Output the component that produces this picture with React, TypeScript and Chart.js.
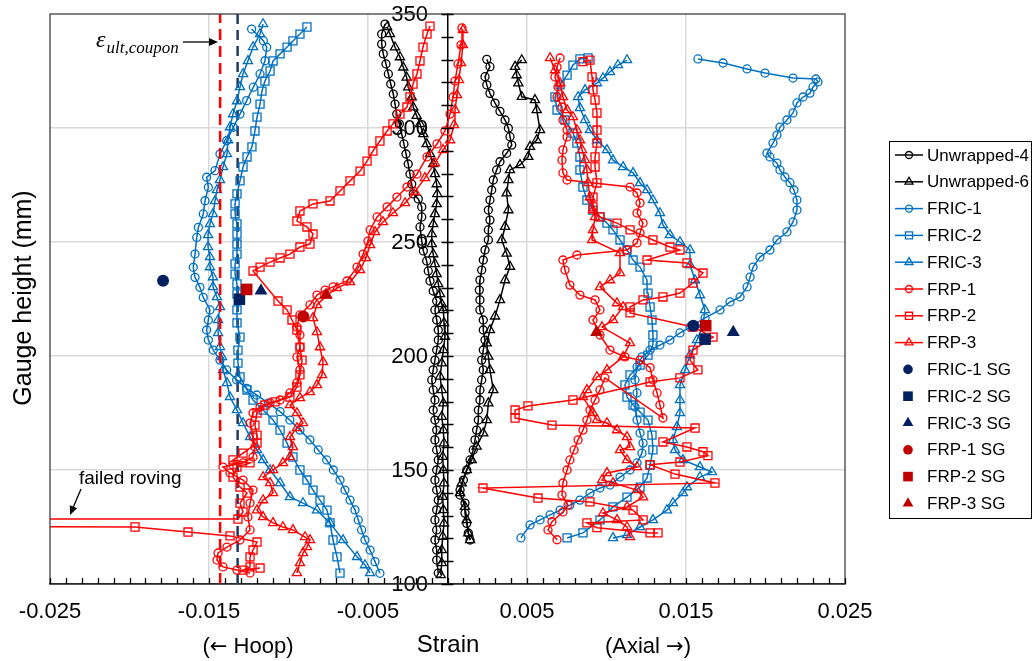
import React, { useEffect, useRef } from 'react';
import { Chart, registerables } from 'chart.js';

Chart.register(...registerables);

type Pt = [number, number];

// ---------- axes ----------
const X_MIN = -0.025;
const X_MAX = 0.025;
const Y_MIN = 100;
const Y_MAX = 350;
const Y_STEP = 50;
const X_TICKS = [-0.025, -0.015, -0.005, 0.005, 0.015, 0.025];
const GRID_X = [-0.015, -0.005, 0.005, 0.015];
const GRID_Y = [150, 200, 250, 300];

// ---------- reference lines (ultimate coupon strain) ----------
const EPS_FRP_LINE: Pt[] = [[-0.0143, 100], [-0.0143, 350]];
const EPS_FRIC_LINE: Pt[] = [[-0.0132, 100], [-0.0132, 350]];

// ---------- Unwrapped-4 ----------
const U4_HOOP: Pt[] = [[-0.00393,345.6],[-0.00414,341.2],[-0.00414,336.8],[-0.00404,332.5],[-0.00387,328.1],[-0.00372,323.7],[-0.00357,319.3],[-0.00341,314.9],[-0.0033,310.5],[-0.00319,306.1],[-0.00303,301.8],[-0.00288,297.4],[-0.00274,293],[-0.00261,288.6],[-0.00247,284.2],[-0.00236,279.8],[-0.00225,275.4],[-0.00215,271.1],[-0.00184,268.9],[-0.00162,265.4],[-0.00162,261],[-0.00173,256.6],[-0.00162,250.4],[-0.00152,246.1],[-0.00131,241.7],[-0.00121,237.3],[-0.0011,232.9],[-0.0009,228.5],[-0.00068,224.1],[-0.00079,220.2],[-0.00068,215.8],[-0.00058,211.4],[-0.00058,207],[-0.00068,202.6],[-0.00079,198.2],[-0.0009,193.9],[-0.00099,189.5],[-0.0009,185.1],[-0.00079,180.7],[-0.0009,176.3],[-0.00079,171.9],[-0.00068,167.5],[-0.00079,163.2],[-0.00068,158.8],[-0.00058,154.4],[-0.00068,150],[-0.00079,145.6],[-0.00068,141.2],[-0.00058,136.8],[-0.00068,132.5],[-0.00079,128.1],[-0.00068,123.7],[-0.00079,119.3],[-0.00068,114.9],[-0.00068,110.5],[-0.00058,104.8]];
const U4_AXIAL: Pt[] = [[0.00247,330.1],[0.00267,326.9],[0.00236,322.5],[0.00247,318.9],[0.00267,315.2],[0.00299,310.9],[0.0033,307.3],[0.00362,303.5],[0.00383,299.9],[0.00393,296.2],[0.00404,292.5],[0.00372,288.9],[0.0033,285.2],[0.00309,281.6],[0.00288,277.2],[0.00278,272.8],[0.00267,268.4],[0.00257,264],[0.00267,259.6],[0.00257,255.3],[0.00257,250.9],[0.00236,246.5],[0.00225,242.1],[0.00215,237.7],[0.00204,233.3],[0.002,228.9],[0.00204,224.6],[0.00204,220.2],[0.00225,215.8],[0.00225,211.4],[0.00236,207],[0.00225,202.6],[0.00215,198.2],[0.00225,193.9],[0.00215,189.5],[0.00204,185.1],[0.00204,180.7],[0.00194,176.3],[0.00194,171.9],[0.00183,167.5],[0.00173,163.2],[0.00162,158.8],[0.00142,154.4],[0.00121,150],[0.001,145.6],[0.00079,141.2],[0.00079,139],[0.0011,135.5],[0.0011,131.1],[0.00121,126.6],[0.00131,122.3],[0.00142,119.3]];

// ---------- Unwrapped-6 ----------
const U6_HOOP: Pt[] = [[-0.0038,344.3],[-0.00362,341.2],[-0.0033,335.4],[-0.00299,331.1],[-0.00278,326.6],[-0.00257,322.2],[-0.00247,317.9],[-0.00225,313.5],[-0.00215,309.1],[-0.00194,305.4],[-0.00173,301.8],[-0.00152,297.4],[-0.00131,293],[-0.0011,288.6],[-0.0009,284.2],[-0.00079,279.8],[-0.00068,275.4],[-0.00064,271.1],[-0.00068,266.7],[-0.00079,262.3],[-0.0009,257.9],[-0.00099,253.5],[-0.00099,249.1],[-0.0009,244.7],[-0.00079,240.4],[-0.00068,236],[-0.00058,231.6],[-0.00047,227.2],[-0.00036,222.8],[-0.00026,220.2],[-0.00022,214.5],[-0.00016,208.5],[-0.00026,202.6],[-0.00036,196.8],[-0.00047,191],[-0.00036,185.1],[-0.00026,179.3],[-0.00036,173.4],[-0.00026,167.5],[-0.00022,161.7],[-0.0003,155.8],[-0.00026,150],[-0.00022,144.2],[-0.0003,138.3],[-0.00026,132.5],[-0.00022,126.6],[-0.0003,120.8],[-0.00036,114.9],[-0.00036,109.2],[-0.00043,104]];
const U6_AXIAL: Pt[] = [[0.00467,329.8],[0.00425,326.9],[0.00435,323.2],[0.00446,319.6],[0.00467,313.7],[0.0055,312.3],[0.00561,307.9],[0.00582,299.1],[0.00561,294.7],[0.00519,291.8],[0.00508,287.4],[0.00456,283.8],[0.00393,281.6],[0.00383,277.2],[0.00372,271.4],[0.00383,264],[0.00362,256.7],[0.00341,250.9],[0.00372,245],[0.00393,239.2],[0.00362,233.3],[0.0033,224.6],[0.00299,217.4],[0.00267,211.4],[0.00247,205.6],[0.00257,199.8],[0.00267,193.9],[0.00288,185.1],[0.00257,179.3],[0.00247,171.9],[0.00225,166.1],[0.00183,160.3],[0.00152,154.4],[0.00121,150],[0.00089,144.2],[0.00079,139.9],[0.0011,133.9],[0.00121,128.1],[0.00131,122.3],[0.00142,119.3]];

// ---------- FRIC ----------
const FRIC1_HOOP: Pt[] = [[-0.01232,343.4],[-0.01158,338.3],[-0.01137,335.4],[-0.01148,329.5],[-0.01179,323.7],[-0.01221,317.9],[-0.01263,312],[-0.01305,306.1],[-0.01347,300.3],[-0.01389,294.4],[-0.01431,288.6],[-0.01462,281.3],[-0.01515,278.4],[-0.01504,274],[-0.01525,268.1],[-0.01536,262.3],[-0.01567,256.4],[-0.01577,252],[-0.01588,244.7],[-0.01599,238.9],[-0.01588,234.5],[-0.01557,230.1],[-0.01536,225.7],[-0.01494,220.2],[-0.01504,215.8],[-0.01515,211.4],[-0.01504,207],[-0.01473,202.6],[-0.01431,198.2],[-0.01389,193.9],[-0.01326,189.5],[-0.01263,185.8],[-0.012,182.9],[-0.01127,179.3],[-0.01053,175.6],[-0.00991,171.9],[-0.00928,167.5],[-0.00865,163.2],[-0.00813,158.8],[-0.0076,154.4],[-0.00718,150],[-0.00676,145.6],[-0.00645,141.2],[-0.00613,136.8],[-0.00582,132.5],[-0.00561,128.1],[-0.0054,123.7],[-0.00519,119.3],[-0.00487,114.9],[-0.00456,109.8],[-0.00425,104.7]];
const FRIC1_AXIAL: Pt[] = [[0.00462,120.2],[0.00519,125.9],[0.00582,128.1],[0.00645,130.3],[0.00708,132.4],[0.0077,134.6],[0.00833,136.8],[0.00896,139.9],[0.00959,142.1],[0.01022,143.4],[0.01085,146.9],[0.01148,150],[0.01192,153.1],[0.01223,157.4],[0.0123,161.8],[0.01211,166.2],[0.01192,171.9],[0.01179,177.6],[0.01192,183.8],[0.01179,189.5],[0.01192,195.2],[0.01223,199.6],[0.01274,202.6],[0.01336,204.8],[0.01399,207],[0.01462,210.1],[0.01525,212.7],[0.0162,216.7],[0.01714,220.2],[0.01777,223.7],[0.0184,225.9],[0.01884,230.3],[0.01903,234.6],[0.01922,239],[0.01965,243.4],[0.02028,246.5],[0.02072,250.9],[0.02135,254.4],[0.02173,258.8],[0.02198,264],[0.02198,268.4],[0.02179,272.8],[0.02154,276],[0.02122,278.5],[0.02091,281.6],[0.02072,284.6],[0.02028,287.3],[0.02009,289],[0.02047,293.4],[0.02072,296.9],[0.02091,300.4],[0.02135,303.5],[0.02173,306.6],[0.02198,311],[0.02236,313.6],[0.0228,315.3],[0.02299,318],[0.0233,320.2],[0.02317,321.5],[0.02173,321.9],[0.01997,324.1],[0.01884,325.9],[0.01733,328.5],[0.01575,330.3]];
const FRIC2_HOOP: Pt[] = [[-0.00884,344.3],[-0.00928,341.2],[-0.00972,338.2],[-0.01009,335.5],[-0.01053,332.5],[-0.01097,329.4],[-0.01116,325],[-0.01148,320.6],[-0.01167,316.2],[-0.01179,310.5],[-0.01198,304.8],[-0.01211,298.7],[-0.0123,291.7],[-0.01261,287.3],[-0.01286,282.9],[-0.01305,276.8],[-0.01324,271.1],[-0.01336,266.7],[-0.01336,262.3],[-0.01324,257.9],[-0.01324,253.5],[-0.01324,249.1],[-0.01324,244.7],[-0.01336,240.4],[-0.01336,235.9],[-0.01324,231.6],[-0.01324,227.2],[-0.01324,220.2],[-0.01324,214.5],[-0.01305,208.3],[-0.01318,202.6],[-0.01318,196.9],[-0.01305,190.8],[-0.01261,185.1],[-0.01223,180.7],[-0.0116,176.3],[-0.01097,171.9],[-0.01053,167.5],[-0.01009,161.8],[-0.00972,155.7],[-0.00928,150],[-0.00884,145.6],[-0.00846,141.2],[-0.00802,136.8],[-0.00758,132.4],[-0.00739,126.8],[-0.0072,119.3],[-0.00695,111.9],[-0.00676,104.8]];
const FRIC2_AXIAL: Pt[] = [[0.00752,120.2],[0.00852,122.4],[0.00959,128.1],[0.01041,133.8],[0.01129,138.1],[0.01211,142.5],[0.01255,146.5],[0.01274,152.2],[0.01292,158.8],[0.01286,165.3],[0.01261,171.9],[0.01211,175.4],[0.01167,178.5],[0.01129,182],[0.01116,187.3],[0.01148,191.7],[0.01211,196],[0.01261,200.4],[0.01292,204.8],[0.01292,209.2],[0.01286,215.8],[0.01274,221.5],[0.01261,227.6],[0.01255,233.3],[0.01211,239],[0.01167,242.1],[0.01129,246.5],[0.01085,250.9],[0.01041,255.3],[0.01003,258.3],[0.00959,261],[0.00915,264],[0.00877,268.4],[0.00852,274.1],[0.00833,281.6],[0.00833,287.3],[0.00814,293.4],[0.00789,297.8],[0.00739,303.5],[0.00689,307.9],[0.00676,313.6],[0.00708,318.9],[0.00752,323.2],[0.00789,327.6],[0.00833,330.3],[0.00884,330.7]];
const FRIC3_HOOP: Pt[] = [[-0.0116,345.6],[-0.01179,341.2],[-0.01223,335.5],[-0.01255,329.4],[-0.01286,323.7],[-0.01305,318],[-0.01324,311.8],[-0.01349,306.1],[-0.01368,300.4],[-0.0138,294.7],[-0.01387,288.6],[-0.01412,282.9],[-0.01431,277.2],[-0.0145,272.8],[-0.01462,268],[-0.01475,262.3],[-0.01494,257.9],[-0.01506,253.1],[-0.01506,247.8],[-0.01494,243.4],[-0.01494,239],[-0.01475,234.6],[-0.01475,230.3],[-0.0145,225.9],[-0.01431,221.5],[-0.01443,215.8],[-0.01443,210.1],[-0.01431,204],[-0.01418,199.6],[-0.01412,193.9],[-0.01387,188.2],[-0.01368,182],[-0.01324,176.3],[-0.01286,170.6],[-0.01242,164.5],[-0.01198,158.8],[-0.0116,154.4],[-0.01116,150],[-0.01053,144.3],[-0.00991,138.2],[-0.00909,135.5],[-0.00821,132.4],[-0.00739,126.8],[-0.00657,119.3],[-0.00569,111.9],[-0.00519,108.3],[-0.00487,104.8]];
const FRIC3_AXIAL: Pt[] = [[0.01041,120.2],[0.01129,121.5],[0.01211,125],[0.01292,128.1],[0.0138,132.4],[0.01418,135.5],[0.01481,139.9],[0.01506,142.5],[0.01588,146.9],[0.01663,149.1],[0.01588,151.3],[0.01481,154.4],[0.01431,158.8],[0.01418,163.2],[0.01443,168.9],[0.01462,175],[0.01462,180.7],[0.01462,187.3],[0.01494,193.9],[0.01525,200.4],[0.01569,207],[0.01607,213.6],[0.01619,220.2],[0.01588,226.7],[0.01557,233.3],[0.01525,239.9],[0.01525,246.5],[0.01462,250],[0.01399,253.1],[0.01355,257.5],[0.01336,262.7],[0.01292,268.4],[0.01255,272.8],[0.01211,275.9],[0.01167,280.3],[0.01104,282.9],[0.01041,285.9],[0.01003,290.4],[0.0094,294.7],[0.00896,299.1],[0.00865,303.5],[0.00833,308.8],[0.00821,313.6],[0.00865,316.7],[0.0094,319.7],[0.00978,321.9],[0.01022,324.6],[0.01072,327.6],[0.01129,329.8]];

// ---------- FRP ----------
const FRP1_HOOP: Pt[] = [[-0.01242,104.8],[-0.01324,106.1],[-0.01412,107.5],[-0.0145,110.5],[-0.01443,113.6],[-0.01387,116.2],[-0.01305,119.3],[-0.01242,123.7],[-0.01255,129.4],[-0.01242,135.5],[-0.01223,141.2],[-0.01286,145.6],[-0.01368,148.7],[-0.01412,151.3],[-0.01349,152.2],[-0.01286,153.1],[-0.01223,155.7],[-0.01211,160.1],[-0.01223,164.5],[-0.01242,170.6],[-0.01223,175],[-0.01179,177.6],[-0.01116,179.4],[-0.01053,180.7],[-0.00991,183.8],[-0.00947,188.2],[-0.00928,193.9],[-0.00947,199.6],[-0.00928,203.9],[-0.00928,209.2],[-0.00947,212.7],[-0.00928,218],[-0.00865,222.4],[-0.00821,226.7],[-0.0077,228.9],[-0.0072,230.3],[-0.00632,232.9],[-0.00569,239],[-0.00531,244.7],[-0.005,250.4],[-0.00487,255.3],[-0.00443,261],[-0.0038,265.4],[-0.00318,269.7],[-0.00255,274.1],[-0.00192,279.8],[-0.00129,287.3],[-0.00066,293],[-0.00016,298.7],[0.00016,306.1],[0.00035,313.6],[0.00047,320.6],[0.00066,328.1],[0.00085,336.4],[0.00091,343.9]];
const FRP1_AXIAL: Pt[] = [[0.00708,330.7],[0.00689,326.7],[0.00676,322.4],[0.00695,318],[0.00689,313.6],[0.0072,309.2],[0.00726,303.5],[0.00752,299.1],[0.00752,296.1],[0.00726,290.4],[0.0072,285.9],[0.00726,280.3],[0.00752,277.2],[0.01148,274.1],[0.01192,271.5],[0.01211,267.1],[0.01192,262.7],[0.0123,258.3],[0.01211,254],[0.01192,249.6],[0.01129,246.5],[0.00814,244.3],[0.00726,242.1],[0.00739,237.7],[0.0077,231.1],[0.00833,226.7],[0.00928,224.6],[0.00959,220.2],[0.00915,215.8],[0.00959,209.2],[0.01022,202.6],[0.01116,199.6],[0.01211,198.2],[0.01274,194.9],[0.01292,189.5],[0.01318,183.8],[0.01336,178.5],[0.01355,172.8],[0.0099,190.4],[0.00959,185.1],[0.00928,180.7],[0.00896,176.3],[0.00877,171.9],[0.00852,167.5],[0.00821,163.2],[0.00796,158.8],[0.0077,154.4],[0.00752,150],[0.00726,144.3],[0.0072,139],[0.00758,134.6],[0.00726,131.6],[0.00657,127.3],[0.00632,123.7],[0.00689,119.4]];
const FRP2_HOOP: Pt[] = [[-0.0011,344.7],[-0.00129,341.2],[-0.00154,335.5],[-0.00173,329.4],[-0.00192,323.7],[-0.00217,319.3],[-0.00236,313.6],[-0.00255,309.2],[-0.00299,306.1],[-0.00343,301.8],[-0.0038,298.7],[-0.00425,294.3],[-0.00469,289.9],[-0.00506,285.5],[-0.0055,281.1],[-0.00613,276.8],[-0.00676,272.4],[-0.00739,268],[-0.00846,266.7],[-0.00928,263.6],[-0.00947,259.2],[-0.00884,256.6],[-0.00846,253.5],[-0.00865,249.1],[-0.00928,247.8],[-0.00991,244.7],[-0.01053,243],[-0.01116,241.2],[-0.01179,239],[-0.01223,237.3],[-0.01066,224.1],[-0.01009,220.2],[-0.00978,215.8],[-0.00947,211.4],[-0.00928,203.9],[-0.00915,198.2],[-0.00928,191.7],[-0.00947,186.4],[-0.00991,182],[-0.01085,179.9],[-0.01148,178.5],[-0.01198,175],[-0.01211,169.7],[-0.01198,165.3],[-0.01198,161.8],[-0.01286,157.4],[-0.01349,154.4],[-0.01242,153.1],[-0.01324,151.3],[-0.01349,146.9],[-0.01305,142.5],[-0.01261,139.9],[-0.01305,135.5],[-0.01286,131.6],[-0.01318,128.5],[-0.045,128.5],[-0.035,125.2],[-0.01965,125],[-0.01632,122.8],[-0.01368,121.1],[-0.01198,118.4],[-0.01223,114.9],[-0.01242,111.9],[-0.01242,107.5],[-0.01286,106.1],[-0.01179,107]];
const FRP2_AXIAL: Pt[] = [[0.00852,329.1],[0.00896,329.8],[0.00909,322.4],[0.00915,316.7],[0.00928,312.3],[0.0094,306.6],[0.0094,299.1],[0.0094,293.4],[0.00928,287.3],[0.00928,282.9],[0.0094,275.9],[0.00915,269.7],[0.00915,265.4],[0.00959,261],[0.01066,258.3],[0.01148,255.3],[0.01292,250.9],[0.01399,247.8],[0.01462,246.5],[0.01255,242.1],[0.01506,240.8],[0.01607,236.4],[0.01544,232],[0.01462,227.6],[0.01355,225.9],[0.0123,224.6],[0.01148,221.5],[0.01148,218.9],[0.01544,212.7],[0.0167,208.3],[0.01544,202.6],[0.01525,198.2],[0.01575,193.9],[0.01462,190.4],[0.01274,188.6],[0.00789,180.7],[0.00506,178.1],[0.00425,176.3],[0.00425,172.8],[0.00657,169.7],[0.01557,168.4],[0.01355,162.3],[0.01506,160.1],[0.01607,158],[0.01638,156.3],[0.01462,153.5],[0.01274,152.3],[0.01431,148.2],[0.01682,144.3],[0.00223,142.1],[0.00569,137.7],[0.00896,136],[0.01167,132.4],[0.0123,128.1],[0.00877,126.8],[0.0094,124.7],[0.01274,122.4],[0.01324,122.4]];
const FRP3_HOOP: Pt[] = [[-0.00947,104.8],[-0.00928,109.2],[-0.00909,113.6],[-0.00884,116.2],[-0.00865,119.3],[-0.00896,120.6],[-0.00972,123.7],[-0.01035,125],[-0.01097,126.8],[-0.0116,129.4],[-0.01198,132.4],[-0.0116,136.8],[-0.01097,139.9],[-0.01116,144.3],[-0.0116,146.9],[-0.01097,150],[-0.01035,153.1],[-0.00991,155.7],[-0.00972,160.1],[-0.00991,164.5],[-0.00947,168.4],[-0.00909,170.6],[-0.00947,175],[-0.00991,178.5],[-0.00928,181.6],[-0.00865,184.2],[-0.00821,187.3],[-0.00789,191.7],[-0.00783,197.4],[-0.00802,203.9],[-0.00821,210.5],[-0.00846,216.7],[-0.00821,222.4],[-0.00758,226.7],[-0.00695,229.8],[-0.00613,232.5],[-0.0055,237.7],[-0.00513,243],[-0.00487,248.7],[-0.00456,254.4],[-0.00406,258.8],[-0.00343,262.7],[-0.00267,267.1],[-0.00204,272],[-0.00142,278.1],[-0.00079,284.6],[-0.00028,290.4],[0.00016,294.7],[0.00041,301.3],[0.00047,307.9],[0.0006,314.5],[0.00072,321.1],[0.00085,328.5],[0.00097,336.4],[0.00097,343]];
const FRP3_AXIAL: Pt[] = [[0.00645,330.7],[0.00676,325.4],[0.00708,319.7],[0.00726,313.6],[0.00752,307.9],[0.00789,304.8],[0.00814,299.1],[0.00833,294.7],[0.00846,290.4],[0.00865,286],[0.00877,281.6],[0.00884,275.9],[0.00896,269.7],[0.00915,264],[0.00928,261],[0.00915,255.3],[0.00909,250.9],[0.01085,245.2],[0.01085,236.4],[0.01022,233.3],[0.00959,230.3],[0.01066,223.2],[0.01104,221.5],[0.01041,215.8],[0.00972,212.7],[0.01148,205.7],[0.01104,199.6],[0.01003,193.9],[0.0094,190.8],[0.00877,185.1],[0.00852,182],[0.00915,175],[0.0094,172],[0.01003,170.6],[0.01066,167.5],[0.01129,164.5],[0.01148,160.1],[0.01085,158.8],[0.01129,154.4],[0.01192,151.3],[0.01003,148.7],[0.00972,145.6],[0.01041,144.3],[0.01192,141.2],[0.0123,138.1],[0.01129,133.8],[0.00978,131.1],[0.01066,128.1],[0.01129,125],[0.01148,120.6]];

// ---------- strain gauges ----------
const FRIC1_SG: Pt[] = [[-0.01789, 233], [0.01546, 213.3]];
const FRIC2_SG: Pt[] = [[-0.01309, 224.9], [0.0162, 207.4]];
const FRIC3_SG: Pt[] = [[-0.01173, 228.6], [0.01797, 210.4]];
const FRP1_SG: Pt[] = [[-0.00907, 217.3]];
const FRP2_SG: Pt[] = [[-0.01263, 229.2], [0.01624, 213.3]];
const FRP3_SG: Pt[] = [[-0.00764, 226.8], [0.00938, 210.4]];

// ---------- styles ----------
const FONT = "'Liberation Sans', Arial, sans-serif";
const ARROW_FONT = "'DejaVu Sans', 'Liberation Sans', sans-serif";
const SERIF = "'Liberation Serif', 'Times New Roman', serif";
const BLACK = '#000000';
const BLUE = '#0070C0';
const RED = '#FF0000';
const NAVY = '#002060';
const DARKRED = '#C00000';
const DASH_NAVY = '#203864';

type Marker = 'circle' | 'rect' | 'triangle';
const MARKER_R: Record<Marker, number> = { circle: 4, rect: 5.7, triangle: 5.3 };
const SG_R: Record<Marker, number> = { circle: 6, rect: 8.2, triangle: 7.5 };

const SERIES: { label: string; color: string; marker: Marker; branches: Pt[][] }[] = [
  { label: 'Unwrapped-4', color: BLACK, marker: 'circle', branches: [U4_HOOP, U4_AXIAL] },
  { label: 'Unwrapped-6', color: BLACK, marker: 'triangle', branches: [U6_HOOP, U6_AXIAL] },
  { label: 'FRIC-1', color: BLUE, marker: 'circle', branches: [FRIC1_HOOP, FRIC1_AXIAL] },
  { label: 'FRIC-2', color: BLUE, marker: 'rect', branches: [FRIC2_HOOP, FRIC2_AXIAL] },
  { label: 'FRIC-3', color: BLUE, marker: 'triangle', branches: [FRIC3_HOOP, FRIC3_AXIAL] },
  { label: 'FRP-1', color: RED, marker: 'circle', branches: [FRP1_HOOP, FRP1_AXIAL] },
  { label: 'FRP-2', color: RED, marker: 'rect', branches: [FRP2_HOOP, FRP2_AXIAL] },
  { label: 'FRP-3', color: RED, marker: 'triangle', branches: [FRP3_HOOP, FRP3_AXIAL] },
];

const SG_SERIES: { label: string; color: string; marker: Marker; pts: Pt[] }[] = [
  { label: 'FRIC-1 SG', color: NAVY, marker: 'circle', pts: FRIC1_SG },
  { label: 'FRIC-2 SG', color: NAVY, marker: 'rect', pts: FRIC2_SG },
  { label: 'FRIC-3 SG', color: NAVY, marker: 'triangle', pts: FRIC3_SG },
  { label: 'FRP-1 SG', color: DARKRED, marker: 'circle', pts: FRP1_SG },
  { label: 'FRP-2 SG', color: DARKRED, marker: 'rect', pts: FRP2_SG },
  { label: 'FRP-3 SG', color: DARKRED, marker: 'triangle', pts: FRP3_SG },
];

const toXY = (a: Pt[]) => a.map(([x, y]) => ({ x, y }));

function drawMarker(ctx: CanvasRenderingContext2D, m: Marker, x: number, y: number, r: number, color: string, filled: boolean) {
  ctx.beginPath();
  if (m === 'circle') {
    ctx.arc(x, y, r, 0, Math.PI * 2);
  } else if (m === 'rect') {
    const s = r * Math.SQRT1_2;
    ctx.rect(x - s, y - s, 2 * s, 2 * s);
  } else {
    for (let k = 0; k < 3; k++) {
      const a = (k * 2 * Math.PI) / 3;
      const px = x + Math.sin(a) * r;
      const py = y - Math.cos(a) * r;
      if (k === 0) ctx.moveTo(px, py);
      else ctx.lineTo(px, py);
    }
    ctx.closePath();
  }
  if (filled) {
    ctx.fillStyle = color;
    ctx.fill();
  } else {
    ctx.strokeStyle = color;
    ctx.lineWidth = 1.3;
    ctx.stroke();
  }
}

function drawArrow(ctx: CanvasRenderingContext2D, x1: number, y1: number, x2: number, y2: number) {
  const ang = Math.atan2(y2 - y1, x2 - x1);
  const hl = 9;
  const hw = 4;
  ctx.strokeStyle = '#000';
  ctx.fillStyle = '#000';
  ctx.lineWidth = 1.3;
  ctx.beginPath();
  ctx.moveTo(x1, y1);
  ctx.lineTo(x2 - Math.cos(ang) * hl * 0.8, y2 - Math.sin(ang) * hl * 0.8);
  ctx.stroke();
  ctx.beginPath();
  ctx.moveTo(x2, y2);
  ctx.lineTo(x2 - Math.cos(ang) * hl - Math.sin(ang) * hw, y2 - Math.sin(ang) * hl + Math.cos(ang) * hw);
  ctx.lineTo(x2 - Math.cos(ang) * hl + Math.sin(ang) * hw, y2 - Math.sin(ang) * hl - Math.cos(ang) * hw);
  ctx.closePath();
  ctx.fill();
}

// draw a centred run of text pieces, each with its own font
function drawRuns(ctx: CanvasRenderingContext2D, runs: [string, string][], cx: number, cy: number) {
  let total = 0;
  runs.forEach(([t, f]) => { ctx.font = f; total += ctx.measureText(t).width; });
  let x = cx - total / 2;
  ctx.textAlign = 'left';
  ctx.textBaseline = 'alphabetic';
  runs.forEach(([t, f]) => { ctx.font = f; ctx.fillText(t, x, cy); x += ctx.measureText(t).width; });
}

const decorPlugin = {
  id: 'decor',
  beforeDatasetsDraw(chart: any) {
    const { ctx, scales } = chart;
    const xs = scales.x;
    const ys = scales.y;
    const x0 = xs.getPixelForValue(0);
    ctx.save();
    ctx.fillStyle = '#000';
    ctx.font = `22px ${FONT}`;
    ctx.textAlign = 'right';
    ctx.textBaseline = 'middle';
    ys.ticks.forEach((t: any) => {
      ctx.fillText(String(t.value), x0 - 19.5, ys.getPixelForValue(t.value) + 1);
    });
    ctx.restore();
  },
  afterDatasetsDraw(chart: any) {
    const { ctx, chartArea: a, scales } = chart;
    const xs = scales.x;
    const ys = scales.y;
    ctx.save();
    ctx.strokeStyle = '#404040';
    ctx.lineWidth = 1.3;
    ctx.strokeRect(a.left, a.top, a.right - a.left, a.bottom - a.top);
    ctx.strokeStyle = '#000';
    ctx.lineWidth = 1.3;
    ctx.beginPath();
    for (let i = -25; i <= 25; i++) {
      const px = Math.round(xs.getPixelForValue(i / 1000)) + 0.5;
      ctx.moveTo(px, a.bottom);
      ctx.lineTo(px, a.bottom - 6);
    }
    const x0 = xs.getPixelForValue(0);
    for (let h = Y_MIN; h <= Y_MAX; h += 10) {
      const py = Math.round(ys.getPixelForValue(h)) + 0.5;
      ctx.moveTo(x0 - 6, py);
      ctx.lineTo(x0 + 6, py);
    }
    ctx.stroke();
    ctx.restore();
  },
  afterDraw(chart: any) {
    const { ctx } = chart;
    ctx.save();
    ctx.fillStyle = '#000';
    ctx.textAlign = 'left';
    ctx.textBaseline = 'alphabetic';
    // epsilon label
    ctx.font = `italic 24px ${SERIF}`;
    ctx.fillText('ε', 96, 47);
    const ew = ctx.measureText('ε').width;
    ctx.font = `italic 17px ${SERIF}`;
    ctx.fillText('ult,coupon', 96 + ew + 1, 53);
    drawArrow(ctx, 183, 42, 218, 42);
    // failed roving
    ctx.fillStyle = '#000';
    ctx.font = `19px ${FONT}`;
    ctx.fillText('failed roving', 79, 484);
    drawArrow(ctx, 81, 489, 70, 515);
    // y title
    ctx.save();
    ctx.translate(24, 298);
    ctx.rotate(-Math.PI / 2);
    ctx.textAlign = 'center';
    ctx.textBaseline = 'middle';
    ctx.fillStyle = '#000';
    ctx.font = `25px ${FONT}`;
    ctx.fillText('Gauge height (mm)', 0, 0);
    ctx.restore();
    // x titles
    ctx.textAlign = 'center';
    ctx.textBaseline = 'middle';
    ctx.fillStyle = '#000';
    ctx.font = `24px ${FONT}`;
    ctx.fillText('Strain', 448, 645);
    const f = `22px ${FONT}`;
    const fa = `21px ${ARROW_FONT}`;
    drawRuns(ctx, [['(', f], ['←', fa], [' Hoop)', f]], 248, 653);
    drawRuns(ctx, [['(Axial ', f], ['→', fa], [')', f]], 648, 653);
    // legend
    const LX = 889, LY = 141, LW = 142, LH = 377;
    ctx.strokeStyle = '#000';
    ctx.lineWidth = 1;
    ctx.strokeRect(LX + 0.5, LY + 0.5, LW, LH);
    ctx.font = `17px ${FONT}`;
    ctx.textAlign = 'left';
    ctx.textBaseline = 'middle';
    let row = 0;
    SERIES.forEach((s) => {
      const cy = 155 + row * 26.8;
      ctx.strokeStyle = s.color;
      ctx.lineWidth = 1.5;
      ctx.beginPath();
      ctx.moveTo(895, cy);
      ctx.lineTo(923, cy);
      ctx.stroke();
      drawMarker(ctx, s.marker, 909, cy, s.marker === 'circle' ? 3.5 : s.marker === 'rect' ? 5 : 4.6, s.color, false);
      ctx.fillStyle = '#000';
      ctx.font = `17px ${FONT}`;
      ctx.textAlign = 'left';
      ctx.textBaseline = 'middle';
      ctx.fillText(s.label, 927, cy + 1);
      row++;
    });
    SG_SERIES.forEach((s) => {
      const cy = 155 + row * 26.8;
      drawMarker(ctx, s.marker, 908, cy, s.marker === 'circle' ? 4.8 : s.marker === 'rect' ? 6.8 : 6.2, s.color, true);
      ctx.fillStyle = '#000';
      ctx.fillText(s.label, 927, cy + 1);
      row++;
    });
    ctx.restore();
  },
};

export default function App() {
  const ref = useRef<HTMLCanvasElement | null>(null);
  useEffect(() => {
    if (!ref.current) return;
    const datasets: any[] = [];
    datasets.push({
      data: toXY(EPS_FRIC_LINE), showLine: true, borderColor: DASH_NAVY, borderWidth: 2.5,
      borderDash: [10, 6], pointRadius: 0, pointHoverRadius: 0,
    });
    SERIES.forEach((s) => {
      s.branches.forEach((b) => {
        datasets.push({
          data: toXY(b), showLine: true, borderColor: s.color, borderWidth: 1.5,
          pointStyle: s.marker, pointRadius: MARKER_R[s.marker], pointHoverRadius: MARKER_R[s.marker],
          pointBorderColor: s.color, pointBackgroundColor: 'rgba(0,0,0,0)', pointBorderWidth: 1.3,
        });
      });
    });
    datasets.push({
      data: toXY(EPS_FRP_LINE), showLine: true, borderColor: RED, borderWidth: 2.5,
      borderDash: [11, 6], pointRadius: 0, pointHoverRadius: 0,
    });
    SG_SERIES.forEach((s) => {
      datasets.push({
        data: toXY(s.pts), showLine: false, pointStyle: s.marker,
        pointRadius: SG_R[s.marker], pointHoverRadius: SG_R[s.marker],
        pointBackgroundColor: s.color, pointBorderColor: s.color, pointBorderWidth: 0,
      });
    });
    datasets.forEach((d, i) => { d.order = datasets.length - i; });

    const chart = new Chart(ref.current, {
      type: 'scatter',
      data: { datasets },
      plugins: [decorPlugin],
      options: {
        responsive: false,
        animation: false,
        devicePixelRatio: 1,
        events: [],
        layout: { padding: { left: 50, right: 190, top: 14, bottom: 0 } },
        plugins: { legend: { display: false }, tooltip: { enabled: false } },
        scales: {
          x: {
            type: 'linear', min: X_MIN, max: X_MAX,
            afterBuildTicks: (sc: any) => { sc.ticks = X_TICKS.map((v) => ({ value: v })); },
            afterFit: (sc: any) => { sc.height = 77; },
            ticks: {
              autoSkip: false, maxRotation: 0, minRotation: 0, padding: 15, color: '#000',
              font: { family: FONT, size: 22 },
              callback: (v: any) => Number(v).toFixed(3),
            },
            grid: {
              drawTicks: false, lineWidth: 1.5,
              color: (c: any) => (c.tick && GRID_X.some((g) => Math.abs(g - c.tick.value) < 1e-9) ? '#d9d9d9' : 'rgba(0,0,0,0)'),
            },
            border: { display: true, color: '#000', width: 1.5 },
          },
          y: {
            type: 'linear', min: Y_MIN, max: Y_MAX, position: { x: 0 } as any,
            ticks: { stepSize: Y_STEP, display: false },
            grid: {
              drawTicks: false, lineWidth: 1.5,
              color: (c: any) => (c.tick && GRID_Y.includes(c.tick.value) ? '#d9d9d9' : 'rgba(0,0,0,0)'),
            },
            border: { display: true, color: '#000', width: 1.5 },
          },
        },
      } as any,
    });
    return () => chart.destroy();
  }, []);
  return (
    <div style={{ position: 'absolute', left: 0, top: 0, width: 1035, height: 661, background: '#fff' }}>
      <canvas ref={ref} width={1035} height={661} style={{ width: 1035, height: 661 }} />
    </div>
  );
}
